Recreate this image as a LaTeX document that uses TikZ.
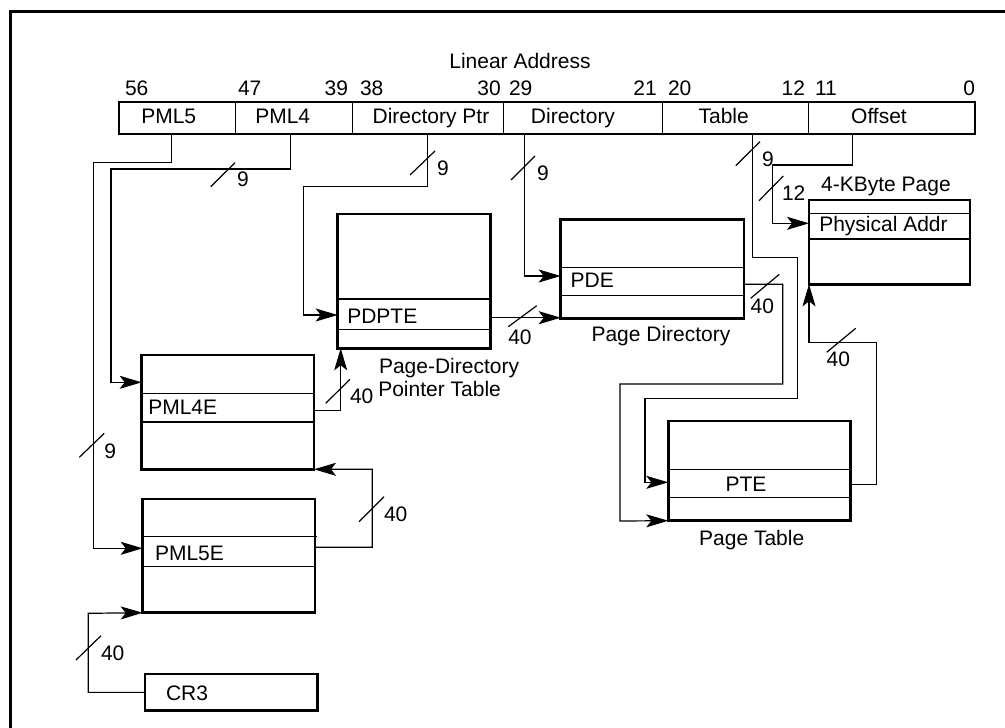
\documentclass[tikz,border=0pt]{standalone}
\usepackage{fontspec}
\setmainfont{Liberation Sans}
\usetikzlibrary{arrows.meta}
\begin{document}
\begin{tikzpicture}[x=1pt,y=-1pt,
  every node/.style={inner sep=0pt, outer sep=0pt, font=\fontsize{21}{25}\selectfont},
  tbl/.style={draw, line width=2.6pt, rectangle, anchor=north west},
  fld/.style={draw, line width=1.3pt, rectangle, anchor=north west, minimum height=32pt},
  rowline/.style={line width=1.3pt},
  conn/.style={line width=1.2pt},
  arr/.style={conn, -{Stealth[length=22pt,width=13pt,inset=5pt]}},
  slash/.style={line width=1.2pt},
  txt/.style={anchor=base west},
  ctxt/.style={anchor=base},
  rtxt/.style={anchor=base east},
]
\useasboundingbox (0,0) rectangle (1005,728);
% frame
\draw[line width=3pt] (10.5,728) -- (10.5,11.5) -- (1005,11.5);

% title and bit numbers
\node[ctxt] (title) at (520,68) {Linear Address};
\node[txt]  (b56) at (125,95) {56};
\node[txt]  (b47) at (238,95) {47};
\node[rtxt] (b39) at (348,95) {39};
\node[txt]  (b38) at (360,95) {38};
\node[rtxt] (b30) at (500.7,95) {30};
\node[txt]  (b29) at (509,95) {29};
\node[rtxt] (b21) at (656.7,95) {21};
\node[txt]  (b20) at (668,95) {20};
\node[rtxt] (b12) at (805,95) {12};
\node[txt]  (b11) at (815,95) {11};
\node[rtxt] (b0)  at (975,95) {0};

% address fields
\node[fld, minimum width=116.3pt] (pml5f)  at (119,102) {};
\node[fld, minimum width=117.4pt] (pml4f)  at (235.3,102) {};
\node[fld, minimum width=150.6pt] (dptrf)  at (352.7,102) {};
\node[fld, minimum width=159pt]   (dirf)   at (503.3,102) {};
\node[fld, minimum width=146pt]   (tablef) at (662.3,102) {};
\node[fld, minimum width=166.7pt] (offf)   at (808.3,102) {};
\draw[line width=2.6pt] (pml5f.north west) rectangle (offf.south east);
\node[ctxt] (lpml5)  at (168.7,123.3) {PML5};
\node[ctxt] (lpml4)  at (282.7,123.3) {PML4};
\node[ctxt] (ldptr)  at (431,123.3) {Directory Ptr};
\node[ctxt] (ldir)   at (573,123.3) {Directory};
\node[ctxt] (ltable) at (723.7,123.3) {Table};
\node[ctxt] (loff)   at (879,123.3) {Offset};

% tables
\node[tbl, minimum width=153pt, minimum height=134.3pt] (pdpt) at (337.7,214) {};
\draw[rowline] ([yshift=-85pt]pdpt.north west) -- ([yshift=-85pt]pdpt.north east);
\draw[rowline] ([yshift=-115.3pt]pdpt.north west) -- ([yshift=-115.3pt]pdpt.north east);
\node[txt] (tpdpte) at (347.3,323.3) {PDPTE};
\node[txt] (npdpt1) at (379,373.3) {Page-Directory};
\node[txt] (npdpt2) at (378.3,396.7) {Pointer Table};

\node[tbl, minimum width=183.3pt, minimum height=99.4pt] (pd) at (560.7,219.3) {};
\draw[rowline] ([yshift=-48pt]pd.north west) -- ([yshift=-48pt]pd.north east);
\draw[rowline] ([yshift=-76pt]pd.north west) -- ([yshift=-76pt]pd.north east);
\node[txt] (tpde) at (570.7,287.7) {PDE};
\node[ctxt] (npd) at (661,341.7) {Page Directory};

\node[tbl, minimum width=161pt, minimum height=84.3pt] (pg) at (809,200) {};
\draw[rowline] ([yshift=-13.3pt]pg.north west) -- ([yshift=-13.3pt]pg.north east);
\draw[rowline] ([yshift=-39pt]pg.north west) -- ([yshift=-39pt]pg.north east);
\node[txt] (tphys) at (819.3,231) {Physical Addr};
\node[ctxt] (npg) at (886,191.7) {4-KByte Page};

\node[tbl, minimum width=172.3pt, minimum height=114.3pt] (pml4e) at (141.7,355) {};
\draw[rowline] ([yshift=-38.3pt]pml4e.north west) -- ([yshift=-38.3pt]pml4e.north east);
\draw[rowline] ([yshift=-67pt]pml4e.north west) -- ([yshift=-67pt]pml4e.north east);
\node[txt] (tpml4e) at (148.3,414) {PML4E};

\node[tbl, minimum width=172.3pt, minimum height=113.7pt] (pml5e) at (142.7,499) {};
\draw[rowline] ([yshift=-37.7pt]pml5e.north west) -- ([yshift=-37.7pt,xshift=2pt]pml5e.north east);
\draw[rowline] ([yshift=-67.7pt]pml5e.north west) -- ([yshift=-67.7pt]pml5e.north east);
\node[txt] (tpml5e) at (155,560) {PML5E};

\node[tbl, minimum width=182.4pt, minimum height=99.7pt] (pt) at (668.3,421) {};
\draw[rowline] ([yshift=-48.3pt]pt.north west) -- ([yshift=-48.3pt]pt.north east);
\draw[rowline] ([yshift=-76.3pt]pt.north west) -- ([yshift=-76.3pt]pt.north east);
\node[ctxt] (tpte) at (746,491) {PTE};
\node[ctxt] (npt) at (751.7,545) {Page Table};

\node[tbl, minimum width=172.7pt, minimum height=36.7pt] (cr3) at (145,674) {};
\node[txt] (tcr3) at (166,700) {CR3};

% connectors from the linear address
\draw[arr] ([xshift=52.7pt]pml5f.south west) |- (93.3,162.3) |- ([yshift=-49.3pt]pml5e.north west);
\draw[arr] ([xshift=55pt]pml4f.south west) |- (111,169) |- ([yshift=-27.3pt]pml4e.north west);
\draw[arr] ([xshift=75pt]dptrf.south west) |- (303.3,186.7) |- ([yshift=-101pt]pdpt.north west);
\draw[arr] ([xshift=21pt]dirf.south west) |- ([yshift=-56.7pt]pd.north west);
\draw[arr] ([xshift=90pt]tablef.south west) |- (797.3,257.3) |- (645,398.3) |- ([yshift=-61.3pt]pt.north west);
\draw[arr] ([xshift=44pt]offf.south west) |- (772.7,165) |- ([yshift=-23.3pt]pg.north west);

% connectors between tables
\draw[arr] (cr3.west) -| (88.3,613.3) -- (pml5e.south west);
\draw[arr] ([yshift=-48.3pt]pml5e.north east) -| (372.3,469.3) -- (pml4e.south east);
\draw[arr] ([yshift=-55.7pt]pml4e.north east) -| ([xshift=3pt]pdpt.south west);
\draw[arr] ([yshift=-103.7pt]pdpt.north east) -- ([yshift=-98.4pt]pd.north west);
\draw[arr] ([yshift=-65pt]pd.north east) -| (782.7,384) -| (620,521) -- (pt.south west);
\draw[arr] ([yshift=-63.3pt]pt.north east) -| (876.7,342.3) -| (pg.south west);

% bus-width slashes
\draw[slash] (79.3,457.3) -- (104.3,433.3);
\draw[slash] (210.7,186.7) -- (235,162.7);
\draw[slash] (410,175) -- (435,151);
\draw[slash] (511,180) -- (535,156);
\draw[slash] (735.7,165.7) -- (760,141.7);
\draw[slash] (759,200.7) -- (783.3,176);
\draw[slash] (76,660) -- (101,635.7);
\draw[slash] (359,521.7) -- (384,496.7);
\draw[slash] (325.7,403.3) -- (350,379.3);
\draw[slash] (508.3,326.7) -- (536.7,305.7);
\draw[slash] (750.7,298.3) -- (779.3,274.3);
\draw[slash] (826.7,352.3) -- (855.7,328.3);

% widths
\node[txt] (w1) at (104.3,458.3) {9};
\node[txt] (w2) at (237,186.7) {9};
\node[txt] (w3) at (437,175) {9};
\node[txt] (w4) at (537,180) {9};
\node[txt] (w5) at (762,166) {9};
\node[txt] (w6) at (782,200) {12};
\node[txt] (w7) at (101,660) {40};
\node[txt] (w8) at (384,521) {40};
\node[txt] (w9) at (350,403.3) {40};
\node[txt] (w10) at (508.3,344) {40};
\node[txt] (w11) at (750.7,313.3) {40};
\node[txt] (w12) at (826.7,366.7) {40};
\end{tikzpicture}
\end{document}
